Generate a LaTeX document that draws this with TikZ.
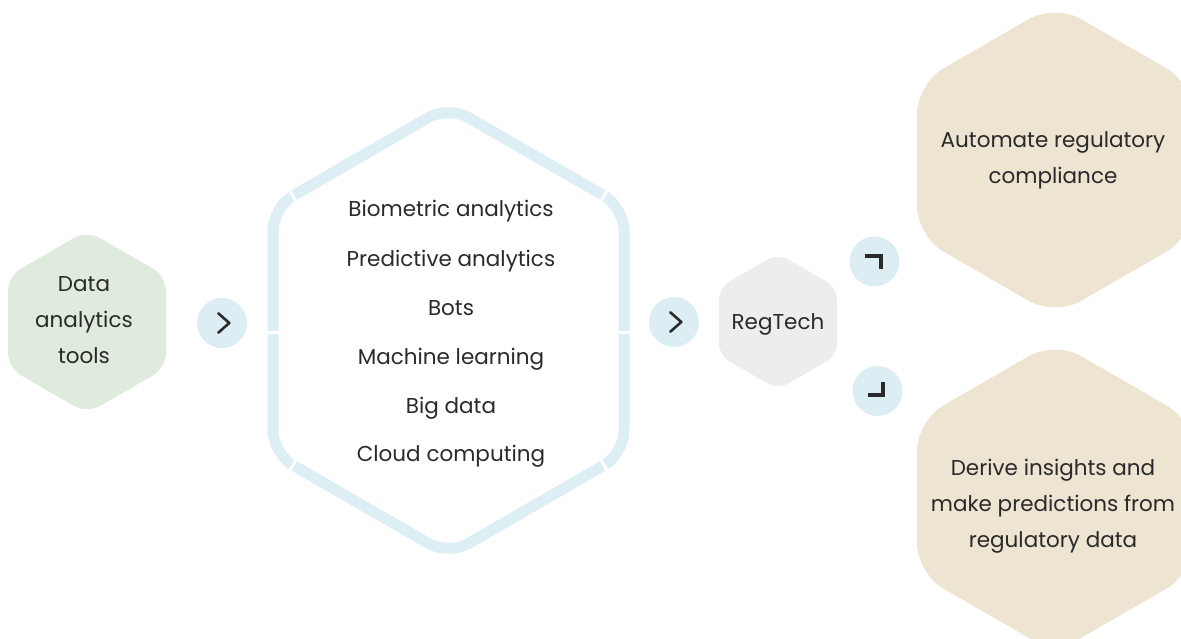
\documentclass[tikz,border=0pt]{standalone}
\usepackage{fontspec}
\setmainfont{Poppins}
\definecolor{txt}{HTML}{2A2A2A}
\definecolor{greenfill}{HTML}{DFEBDC}
\definecolor{bluefill}{HTML}{DCEEF4}
\definecolor{blueline}{HTML}{DDEEF4}
\definecolor{grayfill}{HTML}{EDEDED}
\definecolor{beigefill}{HTML}{EDE4D2}
% hexagon path: center x, center y, half width, half height
\newcommand\hexpath[4]{({#1},{#2-#4}) -- ({#1+#3},{#2-#4+0.57735*#3}) -- ({#1+#3},{#2+#4-0.57735*#3}) -- ({#1},{#2+#4}) -- ({#1-#3},{#2+#4-0.57735*#3}) -- ({#1-#3},{#2-#4+0.57735*#3}) -- cycle}
\begin{document}
\begin{tikzpicture}[x=1pt,y=-1pt,
  lbl/.style={font=\fontsize{21.5}{25}\selectfont, text=txt, anchor=base, inner sep=0pt},
  bubble/.style={circle, fill=bluefill, minimum size=50pt, inner sep=0pt},
  icon/.style={draw=txt, line width=2.6pt, line cap=round, line join=round},
  cornericon/.style={draw=txt, line width=4pt, line cap=butt, line join=miter}
]
\useasboundingbox (0,0) rectangle (1181,639);
% hexagons
\fill[greenfill, rounded corners=15pt] \hexpath{87}{322}{79}{91.5};
\fill[grayfill, rounded corners=12pt] \hexpath{778}{321.5}{59}{68};
\fill[beigefill, rounded corners=30pt] \hexpath{1055}{160}{138}{156};
\fill[beigefill, rounded corners=30pt] \hexpath{1055}{497}{138}{156};
% big outlined hexagon
\draw[blueline, line width=11pt, rounded corners=23pt] \hexpath{448.5}{330.5}{175.5}{224.5};
% gaps
\coordinate (g1) at (292.9,195.8);
\coordinate (g2) at (273,332);
\coordinate (g3) at (292.9,465.2);
\coordinate (g4) at (604.1,195.8);
\coordinate (g5) at (624,332);
\coordinate (g6) at (604.1,465.2);
\begin{scope}[white, line width=3pt]
\draw ([shift={(-4,-7)}]g1) -- ([shift={(4,7)}]g1);
\draw ([shift={(-8,0)}]g2) -- ([shift={(8,0)}]g2);
\draw ([shift={(-4,7)}]g3) -- ([shift={(4,-7)}]g3);
\draw ([shift={(4,-7)}]g4) -- ([shift={(-4,7)}]g4);
\draw ([shift={(-8,0)}]g5) -- ([shift={(8,0)}]g5);
\draw ([shift={(4,7)}]g6) -- ([shift={(-4,-7)}]g6);
\end{scope}
% bubbles
\node[bubble] (c1) at (222,323) {};
\node[bubble] (c2) at (674,322) {};
\node[bubble] (c3) at (874.5,261.5) {};
\node[bubble] (c4) at (877.5,391) {};
\draw[icon] ([shift={(-3.7,-9.7)}]c1.center) -- ([shift={(7.3,0)}]c1.center) -- ([shift={(-3.7,9.7)}]c1.center);
\draw[icon] ([shift={(-3.7,-9.7)}]c2.center) -- ([shift={(7.3,0)}]c2.center) -- ([shift={(-3.7,9.7)}]c2.center);
\draw[cornericon] ([shift={(-9.5,-5.5)}]c3.center) -- ([shift={(6,-5.5)}]c3.center) -- ([shift={(6,8)}]c3.center);
\draw[cornericon] ([shift={(5.2,-9.3)}]c4.center) -- ([shift={(5.2,4)}]c4.center) -- ([shift={(-9.2,4)}]c4.center);
% texts
\node[lbl] (d1) at (84,291) {Data};
\node[lbl] (d2) at (84,327) {analytics};
\node[lbl] (d3) at (84,363) {tools};
\node[lbl] (l1) at (451,217) {Biometric analytics};
\node[lbl] (l2) at (451,266) {Predictive analytics};
\node[lbl] (l3) at (451,315) {Bots};
\node[lbl] (l4) at (451,364) {Machine learning};
\node[lbl] (l5) at (451,413) {Big data};
\node[lbl] (l6) at (451,461) {Cloud computing};
\node[lbl] (r1) at (778,329) {RegTech};
\node[lbl] (a1) at (1053,148) {Automate regulatory};
\node[lbl] (a2) at (1053,184) {compliance};
\node[lbl] (b1) at (1053,475) {Derive insights and};
\node[lbl] (b2) at (1053,511) {make predictions from};
\node[lbl] (b3) at (1053,547) {regulatory data};
\end{tikzpicture}
\end{document}
